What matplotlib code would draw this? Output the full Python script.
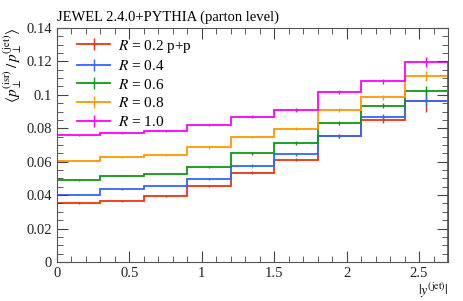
import numpy as np
import matplotlib
matplotlib.use('Agg')
import matplotlib.pyplot as plt
from matplotlib.lines import Line2D
from matplotlib.ticker import MultipleLocator

plt.rcParams['font.family'] = 'Liberation Serif'
plt.rcParams['mathtext.fontset'] = 'stix'

# bin edges in |y^(jet)|
edges = [0.0, 0.3, 0.6, 0.9, 1.2, 1.5, 1.8, 2.1, 2.4, 2.7]

r02 = [0.0352, 0.0364, 0.0396, 0.0457, 0.0535, 0.0612, 0.0755, 0.0852, 0.0965]
r04 = [0.0403, 0.0437, 0.0457, 0.0497, 0.0576, 0.0644, 0.0751, 0.0868, 0.0965]
r06 = [0.0489, 0.0517, 0.0529, 0.0566, 0.0651, 0.0711, 0.0830, 0.0935, 0.1025]
r08 = [0.0606, 0.0626, 0.0641, 0.0685, 0.0748, 0.0797, 0.0908, 0.0986, 0.1113]
r10 = [0.0757, 0.0771, 0.0783, 0.0819, 0.0870, 0.0910, 0.1020, 0.1080, 0.1195]

err02 = [0.0004, 0.0004, 0.0005, 0.0006, 0.0008, 0.0010, 0.0012, 0.0018, 0.0070]
err04 = [0.0004, 0.0004, 0.0005, 0.0006, 0.0008, 0.0010, 0.0012, 0.0016, 0.0030]
err06 = [0.0004, 0.0004, 0.0005, 0.0006, 0.0008, 0.0010, 0.0012, 0.0016, 0.0030]
err08 = [0.0004, 0.0004, 0.0005, 0.0006, 0.0008, 0.0010, 0.0012, 0.0016, 0.0030]
err10 = [0.0004, 0.0004, 0.0005, 0.0006, 0.0008, 0.0010, 0.0012, 0.0016, 0.0030]

labels = [r'$R$ = 0.2 p+p', r'$R$ = 0.4', r'$R$ = 0.6', r'$R$ = 0.8', r'$R$ = 1.0']
series = [r02, r04, r06, r08, r10]
errors = [err02, err04, err06, err08, err10]
colours = ['#EE3311', '#3366FF', '#109618', '#FF9900', '#FF00FF']

xticks = [0, 0.5, 1, 1.5, 2, 2.5]
xticklabels = ['0', '0.5', '1', '1.5', '2', '2.5']
yticks = [0, 0.02, 0.04, 0.06, 0.08, 0.1, 0.12, 0.14]
yticklabels = ['0', '0.02', '0.04', '0.06', '0.08', '0.1', '0.12', '0.14']

fig = plt.figure(figsize=(4.63, 3.01), dpi=100)
ax = fig.add_axes([0.1231, 0.1296, 0.8445, 0.7774])

centres = 0.5 * (np.array(edges[:-1]) + np.array(edges[1:]))
handles = []
for vals, errs, col, lab in zip(series, errors, colours, labels):
    ax.stairs(vals, edges, color=col, lw=1.3)
    ax.errorbar(centres, vals, yerr=errs, fmt='none', ecolor=col, elinewidth=1.0)
    handles.append(Line2D([], [], color=col, lw=1.3, marker='|', markersize=9,
                          markeredgewidth=1.0, label=lab))

ax.set_xlim(0, 2.7)
ax.set_ylim(0, 0.14)
ax.set_xticks(xticks)
ax.set_xticklabels(xticklabels)
ax.set_yticks(yticks)
ax.set_yticklabels(yticklabels)
ax.xaxis.set_minor_locator(MultipleLocator(0.1))
ax.yaxis.set_minor_locator(MultipleLocator(0.005))
ax.tick_params(which='both', direction='in', top=True, right=True, labelsize=10.5,
               colors='#444444', labelcolor='#222222')
ax.tick_params(which='major', length=8, width=0.8)
ax.tick_params(which='minor', length=4, width=0.6)
for sp in ax.spines.values():
    sp.set_color('#555555')
    sp.set_linewidth(0.8)

ax.set_xlabel(r'$|y^{(\mathrm{jet})}|$', fontsize=10, loc='right', labelpad=0.5)
ax.set_ylabel(r'$\langle p_{\perp}^{(\mathrm{isr})}\,/\,p_{\perp}^{(\mathrm{jet})}\rangle$',
              fontsize=11, loc='top', labelpad=2)
ax.set_title('JEWEL 2.4.0+PYTHIA (parton level)', loc='left', fontsize=10.5, pad=5)

ax.legend(handles=handles, loc='upper left', frameon=False, fontsize=11,
          handlelength=2.2, handletextpad=0.5, labelspacing=0.3,
          borderaxespad=0.0, bbox_to_anchor=(0.035, 0.985))

fig.savefig('out.png', dpi=100)
